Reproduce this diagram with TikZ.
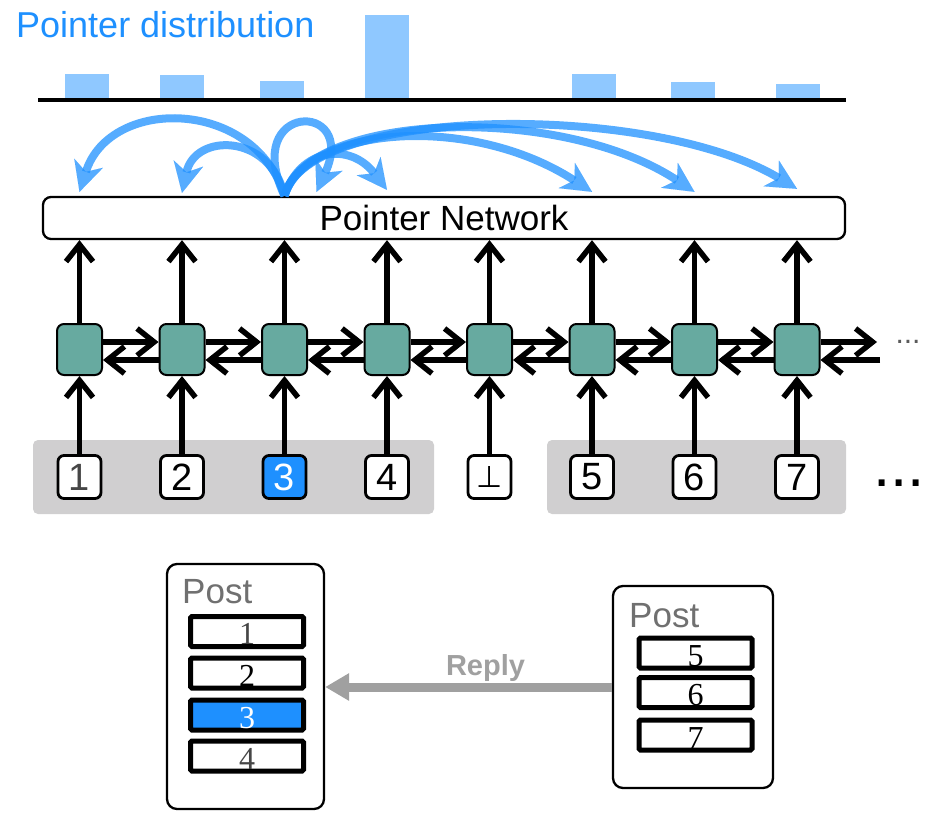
\documentclass[tikz,border=0pt]{standalone}
\usepackage{fontspec}
\setmainfont{Liberation Sans}
\newfontfamily\serifdig{Liberation Serif}
\newfontfamily\symfont{DejaVu Sans}
\usetikzlibrary{arrows.meta}
\definecolor{ptrblue}{RGB}{30,144,255}
\definecolor{barblue}{RGB}{143,200,255}
\definecolor{cellteal}{RGB}{103,170,160}
\definecolor{bggray}{RGB}{208,207,208}
\definecolor{replygray}{RGB}{160,160,160}
\definecolor{posttext}{RGB}{112,112,112}
\definecolor{digray}{RGB}{70,70,70}
\definecolor{dotgray}{RGB}{90,90,90}
\begin{document}
\begin{tikzpicture}[x=1pt,y=-1pt,
  cell/.style={draw=black,line width=2pt,fill=cellteal,rounded corners=7pt,minimum width=45pt,minimum height=51pt,inner sep=0pt},
  inbox/.style={draw=black,line width=2.8pt,fill=white,rounded corners=6pt,minimum width=43pt,minimum height=43pt,inner sep=0pt,font=\fontsize{38}{38}\selectfont},
  grp/.style={fill=bggray,rounded corners=5pt,inner sep=0pt},
  lstmarrow/.style={line width=5.5pt,-{Straight Barb[length=17pt,width=27pt]}},
  ptr/.style={draw=ptrblue,opacity=0.75,line width=8pt,-{Stealth[length=30pt,width=30pt,inset=9pt,line width=0.01pt]}},
  pnbox/.style={draw=black,line width=2.3pt,fill=white,rounded corners=8pt,inner sep=0pt,minimum width=802pt,minimum height=42pt,font=\fontsize{35}{35}\selectfont},
  postbox/.style={draw=black,line width=2.3pt,fill=white,rounded corners=10pt,inner sep=0pt},
  posttxt/.style={anchor=base west,inner sep=0pt,text=posttext,font=\fontsize{35}{35}\selectfont},
  rowbox/.style={draw=black,line width=5pt,fill=white,rounded corners=1.5pt,inner sep=0pt,minimum width=113pt,minimum height=30pt,text height=26.5pt,text depth=0pt,font=\serifdig\fontsize{32}{32}\selectfont},
  reply/.style={draw=replygray,line width=9pt,-{Triangle[length=24pt,width=26pt]}}
]
\useasboundingbox (0,0) rectangle (928,812);

% title and distribution
\node[anchor=base west,inner sep=0pt,text=ptrblue,font=\fontsize{36}{36}\selectfont] (title) at (16,37) {Pointer distribution};
\foreach \bx/\by in {65/74,160/75,260/81,365/15,572/74,671/82,776/84}
  \fill[barblue] (\bx,\by) rectangle ++(44,99-\by);
\draw[line width=3.5pt] (38,100) -- (846,100);

% pointer network
\node[pnbox] (pn) at (444,218) {Pointer Network};

% group backgrounds
\node[grp,minimum width=401pt,minimum height=74pt] (g1) at (233.5,477) {};
\node[grp,minimum width=299pt,minimum height=74pt] (g2) at (696.5,477) {};

% cells
\foreach \i/\x in {1/79.5,2/182,3/284.5,4/387,5/489.5,6/592,7/694.5,8/797}
  \node[cell] (c\i) at (\x,349.5) {};

% inputs
\node[inbox,text=digray] (in1) at (c1 |- g1) {1};
\node[inbox] (in2) at (c2 |- g1) {2};
\node[inbox,fill=ptrblue,text=white] (in3) at (c3 |- g1) {3};
\node[inbox] (in4) at (c4 |- g1) {4};
\node[inbox,font=\symfont\fontsize{30}{30}\selectfont] (in5) at (c5 |- g1) {⊥};
\node[inbox] (in6) at (c6 |- g1) {5};
\node[inbox] (in7) at (c7 |- g1) {6};
\node[inbox] (in8) at (c8 |- g1) {7};

\foreach \i in {1,...,8}{
  \draw[lstmarrow] (in\i.north) -- (c\i.south);
  \draw[lstmarrow] (c\i.north) -- (c\i.north |- pn.south);
}
\foreach \i [evaluate=\i as \j using int(\i+1)] in {1,...,7}{
  \draw[lstmarrow] ([yshift=7.5pt]c\i.east) -- ([yshift=7.5pt]c\j.west);
  \draw[lstmarrow] ([yshift=-10.5pt]c\j.west) -- ([yshift=-10.5pt]c\i.east);
}
\coordinate (fwdend) at (877,342);
\coordinate (bwdstart) at (880,360);
\draw[lstmarrow] ([yshift=7.5pt]c8.east) -- (fwdend);
\draw[lstmarrow] (bwdstart) -- ([yshift=-10.5pt]c8.east);
\node[anchor=base,inner sep=0pt,text=dotgray,font=\fontsize{30}{30}\selectfont] (sdots) at (908,343.5) {...};
\node[anchor=base,inner sep=0pt,font=\fontsize{62}{62}\selectfont] (bdots) at (899,486) {...};

% pointer arcs
\coordinate (O) at (pn.north -| c3);
\path (pn.north -| c1) ++(0,-4) coordinate (t1);
\path (pn.north -| c2) ++(0,-3) coordinate (t2);
\path (pn.north -| c3) ++(32,-4) coordinate (tself);
\path (pn.north -| c4) ++(0,-6) coordinate (t4);
\path (pn.north -| c6) ++(0,-4) coordinate (t6);
\path (pn.north -| c7) ++(0,-4) coordinate (t7);
\path (pn.north -| c8) ++(0,-7) coordinate (t8);
\draw[ptr] (O) .. controls +(-29.5,-98) and +(30.5,-96) .. (t1);
\draw[ptr] (O) .. controls +(-14.5,-63) and +(13,-60) .. (t2);
\draw[ptr] (O) .. controls +(-44,-94) and +(42,-92) .. (tself);
\draw[ptr] (O) .. controls +(15.5,-48) and +(-37,-48) .. (t4);
\draw[ptr] (O) .. controls +(22,-70) and +(-122,-79) .. (t6);
\draw[ptr] (O) .. controls +(22,-84) and +(-134.5,-89) .. (t7);
\draw[ptr] (O) .. controls +(22,-90) and +(-147,-88) .. (t8);

% posts
\node[postbox,minimum width=157pt,minimum height=245pt] (postL) at (245.5,686.5) {};
\node[postbox,minimum width=160pt,minimum height=202pt] (postR) at (693,687) {};
\node[posttxt] (plab) at (182,603) {Post};
\node[posttxt] (prab) at (629,627) {Post};
\node[rowbox,text=digray] (r1) at (247,631.5) {1};
\node[rowbox] (r2) at (247,673) {2};
\node[rowbox,fill=ptrblue,text=white] (r3) at (247,715) {3};
\node[rowbox,text=digray] (r4) at (247,756) {4};
\node[rowbox] (r5) at (695.5,653) {5};
\node[rowbox] (r6) at (695.5,692.5) {6};
\node[rowbox] (r7) at (695.5,735) {7};

\draw[reply] (postR.west) -- (postL.east |- postR.west);
\node[anchor=base,inner sep=0pt,text=replygray,font=\bfseries\fontsize{29}{29}\selectfont] (rlab) at (485.5,675) {Reply};
\end{tikzpicture}
\end{document}
